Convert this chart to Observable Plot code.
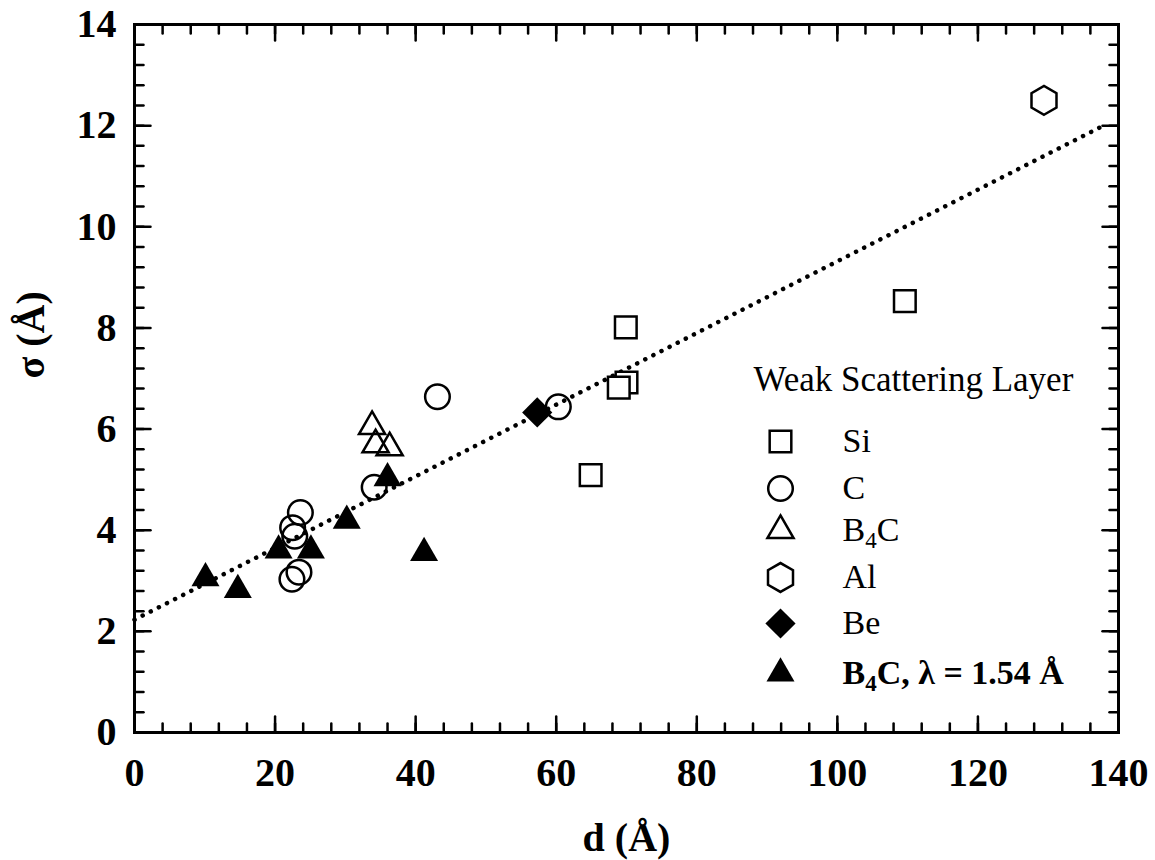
<!DOCTYPE html>
<html><head><meta charset="utf-8">
<script src="https://cdn.jsdelivr.net/npm/d3@7"></script>
<script src="https://cdn.jsdelivr.net/npm/@observablehq/plot@0.6"></script>
<style>body{margin:0;background:#fff}#chart{width:1155px;height:860px}</style>
</head><body><div id="chart"></div>
<script>
// ---- data ----
const siD = [69.9, 70.0, 68.9, 64.9, 109.6];
const siS = [8.01, 6.92, 6.82, 5.09, 8.53];
const cD = [43.1, 34.1, 23.6, 22.5, 22.8, 22.4, 23.4, 60.3];
const cS = [6.64, 4.85, 4.35, 4.05, 3.88, 3.03, 3.17, 6.44];
const b4cD = [33.8, 34.3, 36.3];
const b4cS = [6.05, 5.69, 5.63];
const alD = [129.4];
const alS = [12.5];
const beD = [57.3];
const beS = [6.33];
const b4cLD = [10.1, 14.7, 20.5, 25.1, 30.2, 36.0, 41.2];
const b4cLS = [3.05, 2.82, 3.6, 3.6, 4.19, 5.03, 3.55];
const fitD = [0, 138];
const fitS = [2.23, 12.01];
const xTicks = [0, 20, 40, 60, 80, 100, 120, 140];
const yTicks = [0, 2, 4, 6, 8, 10, 12, 14];
const legendTitle = "Weak Scattering Layer";
const legendLabels = ["Si", "C", "B₄C", "Al", "Be", "B₄C, λ = 1.54 Å"];
const xLabel = "d (Å)";
const yLabel = "σ (Å)";

// ---- styling ----
const font = "'Liberation Serif', 'Times New Roman', serif";
const series = [
  {d: siD, s: siS, symbol: "square", r: 12.2, fill: "white", stroke: "black"},
  {d: cD, s: cS, symbol: "circle", r: 12.3, fill: "none", stroke: "black"},
  {d: b4cD, s: b4cS, symbol: "triangle", r: 9.7, fill: "none", stroke: "black"},
  {d: alD, s: alS, symbol: "hexagon", r: 12.5, fill: "none", stroke: "black"},
  {d: beD, s: beS, symbol: "diamond2", r: 13.6, fill: "black", stroke: "none"},
  {d: b4cLD, s: b4cLS, symbol: "triangle", r: 10.4, fill: "black", stroke: "none"}
];
const legendRowY = [441, 488, 530, 577, 623, 673]; // pixel rows
const legendTitleY = 379;
const M = {top: 24, right: 37, bottom: 128, left: 134};

const tickShape = {draw(ctx, l) { ctx.moveTo(0, 0); ctx.lineTo(0, -l); }};
const xMinor = d3.range(0, 141, 4);
const yMinor = d3.range(0, 14.01, 0.4).map(v => +v.toFixed(1));
const tickOpts = {shape: tickShape, anchor: "start", stroke: "black", strokeWidth: 2.5};

const marks = [];
// inward ticks on all four sides
for (const [fa, rot] of [["bottom", 0], ["top", 180]]) {
  marks.push(Plot.vector(xMinor, {x: d => d, frameAnchor: fa, rotate: rot, length: 9, ...tickOpts}));
  marks.push(Plot.vector(xTicks, {x: d => d, frameAnchor: fa, rotate: rot, length: 16, ...tickOpts}));
}
for (const [fa, rot] of [["left", 90], ["right", -90]]) {
  marks.push(Plot.vector(yMinor, {y: d => d, frameAnchor: fa, rotate: rot, length: 9, ...tickOpts}));
  marks.push(Plot.vector(yTicks, {y: d => d, frameAnchor: fa, rotate: rot, length: 16, ...tickOpts}));
}
marks.push(Plot.axisX({ticks: xTicks, tickSize: 0, tickPadding: 25, label: null, fontSize: 40, fontWeight: "bold", fontFamily: font}));
marks.push(Plot.axisY({ticks: yTicks, tickSize: 0, tickPadding: 18, label: null, fontSize: 40, fontWeight: "bold", fontFamily: font}));
marks.push(Plot.text([xLabel], {frameAnchor: "bottom", dy: 106, fontSize: 40, fontWeight: "bold", fontFamily: font, lineAnchor: "middle"}));
marks.push(Plot.text([yLabel], {frameAnchor: "left", dx: -103, rotate: -90, fontSize: 40, fontWeight: "bold", fontFamily: font, lineAnchor: "middle"}));

// fit line
marks.push(Plot.line(fitD.map((d, i) => ({d, s: fitS[i]})), {x: "d", y: "s", stroke: "black", strokeWidth: 4.5, strokeDasharray: "0.1 9", strokeLinecap: "round"}));

// data
series.forEach(se => {
  const rows = se.d.map((d, i) => ({d, s: se.s[i]}));
  marks.push(Plot.dot(rows, {x: "d", y: "s", symbol: se.symbol, r: se.r, fill: se.fill, stroke: se.stroke, strokeWidth: 2.5}));
});

// legend
marks.push(Plot.text([legendTitle], {frameAnchor: "top-left", dx: 619, dy: legendTitleY - M.top, textAnchor: "start", lineAnchor: "middle", fontSize: 35, fontFamily: font}));
series.forEach((se, i) => {
  marks.push(Plot.dot([0], {frameAnchor: "top-left", dx: 646, dy: legendRowY[i] - M.top, symbol: se.symbol, r: se.r, fill: se.fill, stroke: se.stroke, strokeWidth: 2.5}));
  marks.push(Plot.text([legendLabels[i]], {frameAnchor: "top-left", dx: 708, dy: legendRowY[i] - M.top, textAnchor: "start", lineAnchor: "middle", fontSize: 34, fontFamily: font, fontWeight: i === 5 ? "bold" : "normal"}));
});

marks.push(Plot.frame({stroke: "black", strokeWidth: 3}));

const chart = Plot.plot({
  width: 1155, height: 860,
  marginTop: M.top, marginRight: M.right, marginBottom: M.bottom, marginLeft: M.left,
  x: {domain: [0, 140]},
  y: {domain: [0, 14]},
  style: {fontFamily: font, background: "white", color: "black", overflow: "visible"},
  marks
});
document.getElementById("chart").appendChild(chart);

// subscript 4 in B₄C
const NS = "http://www.w3.org/2000/svg";
chart.querySelectorAll("text").forEach(t => {
  if (t.children.length === 0 && t.textContent.includes("₄")) {
    const [a, b] = t.textContent.split("₄");
    t.textContent = a;
    const sub = document.createElementNS(NS, "tspan");
    sub.setAttribute("font-size", "23");
    sub.setAttribute("dy", "7");
    sub.textContent = "4";
    const rest = document.createElementNS(NS, "tspan");
    rest.setAttribute("dy", "-7");
    rest.textContent = b;
    t.appendChild(sub); t.appendChild(rest);
  }
});
</script></body></html>
